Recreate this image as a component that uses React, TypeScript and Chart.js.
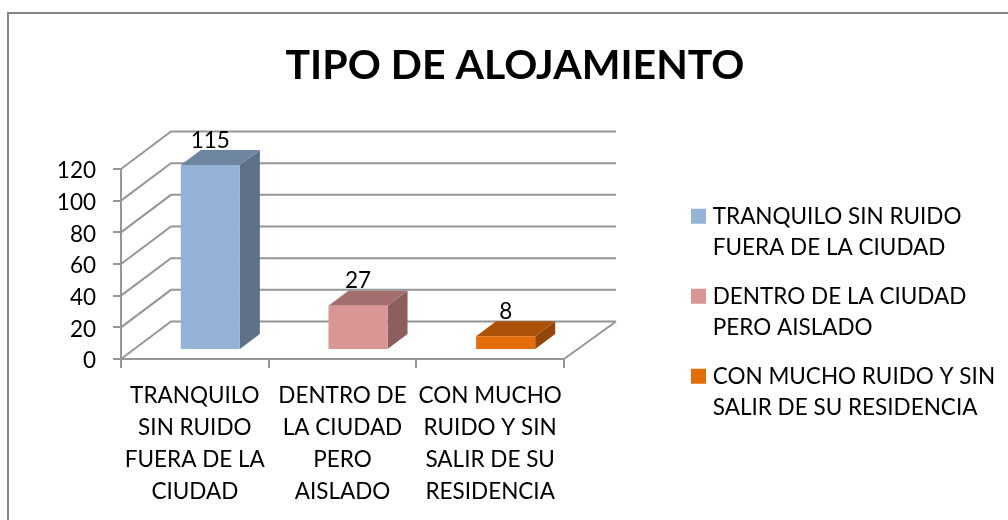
import React, { useEffect, useRef } from "react";
import { Chart, registerables } from "chart.js";

Chart.register(...registerables);

const chartTitle = "TIPO DE ALOJAMIENTO";
const axisLabels = [
  ["TRANQUILO", "SIN RUIDO", "FUERA DE LA", "CIUDAD"],
  ["DENTRO DE", "LA CIUDAD", "PERO", "AISLADO"],
  ["CON MUCHO", "RUIDO Y SIN", "SALIR DE SU", "RESIDENCIA"],
];
const legendLabels = [
  ["TRANQUILO SIN RUIDO", "FUERA DE LA CIUDAD"],
  ["DENTRO DE LA CIUDAD", "PERO AISLADO"],
  ["CON MUCHO RUIDO Y SIN", "SALIR DE SU RESIDENCIA"],
];
const values = [115, 27, 8];
const frontColors = ["#95B3D7", "#D99694", "#E46C0A"];
const topColors = ["#6F86A2", "#A36F6E", "#AB5108"];
const sideColors = ["#5F7188", "#8C5F5E", "#924607"];

const FONT = "Lato, Carlito, sans-serif";
const DEPTH_X = 50;
const DEPTH_Y = 37.5;
const BAR_DX = 20;
const BAR_DY = 15;
const BAR_SHIFT = 15.5;
const GRID = "#969696";

const scene3d = {
  id: "scene3d",
  beforeLayout(chart: any) {
    const lg = chart.legend;
    if (lg && !lg.__wrapped) {
      const fit = lg.fit.bind(lg);
      lg.fit = function () {
        fit();
        lg.__h = lg.height;
        lg.width = 444;
      };
      lg.__wrapped = true;
    }
  },
  afterLayout(chart: any) {
    const lg = chart.legend;
    if (lg) {
      lg.left = 695.5 - 17;
      lg.right = 1008;
      lg.top = 205 - 17;
      lg.bottom = lg.top + lg.__h + 60;
    }
  },
  beforeDraw(chart: any) {
    const { ctx } = chart;
    ctx.save();
    ctx.strokeStyle = "#868686";
    ctx.lineWidth = 2;
    ctx.beginPath();
    ctx.moveTo(8, 530);
    ctx.lineTo(8, 13);
    ctx.lineTo(1020, 13);
    ctx.stroke();
    ctx.restore();
  },
  beforeDatasetsDraw(chart: any) {
    const { ctx, scales } = chart;
    const x0 = scales.x.left;
    const x1 = scales.x.right;
    const y = scales.y;
    ctx.save();
    ctx.strokeStyle = GRID;
    ctx.lineWidth = 2;
    ctx.beginPath();
    y.ticks.forEach((t: any) => {
      const py = y.getPixelForValue(t.value);
      ctx.moveTo(x0, py);
      ctx.lineTo(x0 + DEPTH_X, py - DEPTH_Y);
      ctx.lineTo(x1 + DEPTH_X + 2, py - DEPTH_Y);
    });
    const base = y.getPixelForValue(0);
    ctx.moveTo(x1, base);
    ctx.lineTo(x1 + DEPTH_X + 2, base - DEPTH_Y);
    ctx.stroke();
    ctx.restore();
  },
  beforeDatasetDraw(chart: any) {
    const { ctx } = chart;
    ctx.save();
    ctx.translate(BAR_SHIFT, 0);
    const meta = chart.getDatasetMeta(0);
    meta.data.forEach((el: any, i: number) => {
      const { x, y, base, width } = el.getProps(["x", "y", "base", "width"], true);
      const r = x + width / 2;
      const l = x - width / 2;
      ctx.fillStyle = sideColors[i];
      ctx.beginPath();
      ctx.moveTo(r, y);
      ctx.lineTo(r + BAR_DX, y - BAR_DY);
      ctx.lineTo(r + BAR_DX, base - BAR_DY);
      ctx.lineTo(r, base);
      ctx.closePath();
      ctx.fill();
      ctx.fillStyle = topColors[i];
      ctx.beginPath();
      ctx.moveTo(l, y);
      ctx.lineTo(l + BAR_DX, y - BAR_DY);
      ctx.lineTo(r + BAR_DX, y - BAR_DY);
      ctx.lineTo(r, y);
      ctx.closePath();
      ctx.fill();
    });
  },
  afterDatasetDraw(chart: any) {
    chart.ctx.restore();
  },
  afterDatasetsDraw(chart: any) {
    const { ctx } = chart;
    const meta = chart.getDatasetMeta(0);
    ctx.save();
    ctx.fillStyle = "#000";
    ctx.font = `22.5px ${FONT}`;
    ctx.textAlign = "center";
    ctx.textBaseline = "alphabetic";
    meta.data.forEach((el: any, i: number) => {
      const { x, y } = el.getProps(["x", "y"], true);
      ctx.fillText(String(values[i]), x + BAR_SHIFT, y - BAR_DY - 2.5);
    });
    ctx.restore();
  },
};

export default function App() {
  const ref = useRef<HTMLCanvasElement>(null);
  useEffect(() => {
    if (!ref.current) return;
    const tickFont = { family: FONT, size: 22.5, lineHeight: 32 / 22.5 };
    const chart = new Chart(ref.current, {
      type: "bar",
      data: {
        labels: axisLabels as any,
        datasets: [
          {
            data: values,
            backgroundColor: frontColors,
            yAxisID: "yBar",
            barPercentage: 0.4,
            categoryPercentage: 1,
            clip: false as any,
          },
        ],
      },
      plugins: [scene3d as any],
      options: {
        animation: false,
        responsive: false,
        layout: { padding: { left: 22, right: 0, top: 0, bottom: 0 } },
        plugins: {
          tooltip: { enabled: false },
          title: {
            display: true,
            text: chartTitle,
            color: "#000",
            font: { family: FONT, size: 41, weight: "bold", lineHeight: 1.2 },
            padding: { top: 41, bottom: 78.8 },
          },
          legend: {
            display: true,
            position: "right",
            align: "start",
            labels: {
              boxWidth: 6,
              boxHeight: 6,
              padding: 17,
              color: "#000",
              font: { family: FONT, size: 22.5, lineHeight: 31.5 / 22.5 },
              generateLabels: () =>
                legendLabels.map((text, i) => ({
                  text: text as any,
                  fillStyle: frontColors[i],
                  strokeStyle: frontColors[i],
                  lineWidth: 9,
                  datasetIndex: 0,
                  index: i,
                })),
            },
          },
        },
        scales: {
          x: {
            afterFit: (axis: any) => { axis.height = 161; },
            grid: { drawOnChartArea: false, drawTicks: true, tickLength: 9, color: GRID, lineWidth: 2 },
            border: { display: true, color: GRID, width: 2 },
            ticks: { color: "#000", font: tickFont, maxRotation: 0, minRotation: 0, autoSkip: false, padding: 12 },
          },
          y: {
            min: 0,
            max: 120,
            afterFit: (axis: any) => { axis.width = 99; },
            grid: { drawOnChartArea: false, drawTicks: true, tickLength: 8, color: GRID, lineWidth: 2 },
            border: { display: true, color: GRID, width: 2 },
            ticks: { stepSize: 20, autoSkip: false, color: "#000", font: tickFont, padding: 17, labelOffset: 2 },
          },
          yBar: { display: false, min: -6.25, max: 112.5 },
        },
      },
    } as any);
    return () => chart.destroy();
  }, []);
  return (
    <canvas
      ref={ref}
      width={1008}
      height={520}
      style={{ position: "absolute", left: 0, top: 0, width: 1008, height: 520 }}
    />
  );
}
